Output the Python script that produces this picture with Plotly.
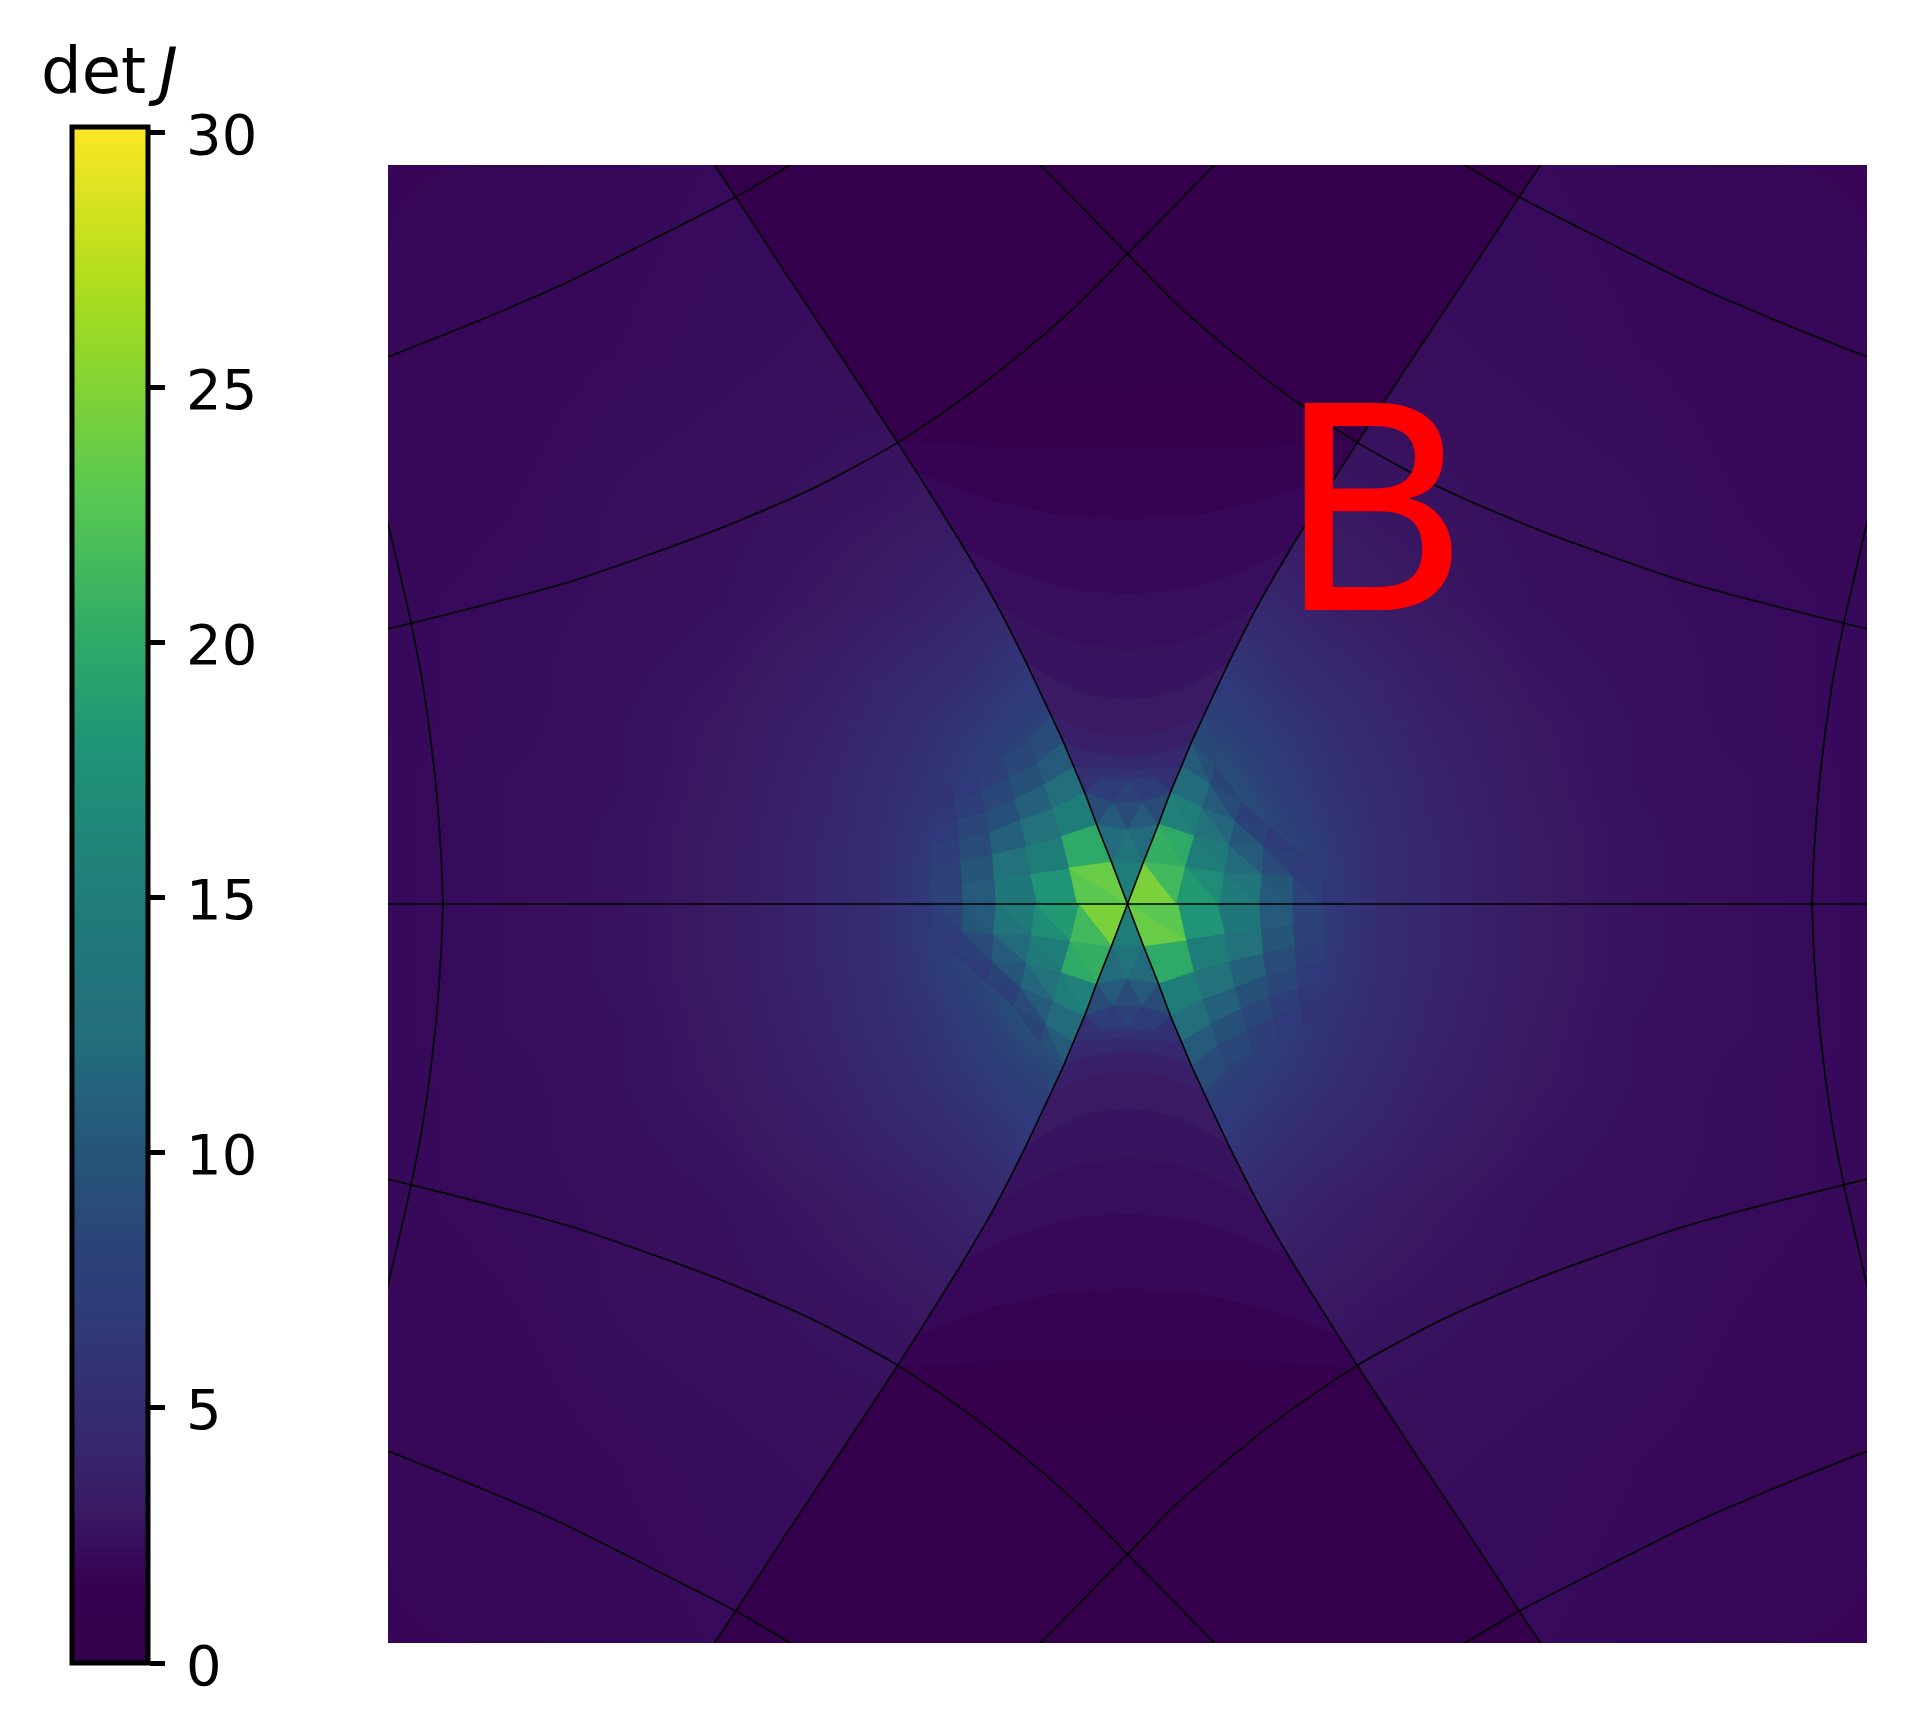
import numpy as np
import plotly.graph_objects as go
from plotly.colors import sample_colorscale

# top of the colorbar sits a little above the 30 tick
z_top = 30.1

# values (value, colour)
bar_values = [0, 1.5, 2, 3, 4, 5, 6.5, 8, 10, 12, 15, 18, 20, 22.75, 25, 27, 28, 30.1]
bar_colors = ['#33004a', '#36004e', '#37085a', '#391a63', '#37246d', '#352c70', '#30387a', '#2c4278',
              '#255579', '#236b7c', '#1f7d79', '#1f9477', '#2ea968', '#55c753', '#82d334', '#aedd1d',
              '#c7e01e', '#fde725']
colorscale = [[v / z_top, c] for v, c in zip(bar_values, bar_colors)]
tick_values = [0, 5, 10, 15, 20, 25, 30]

# background field, one quadrant (|x| columns, |y| rows)
field_x = [0, 100, 150, 200, 250, 300, 400, 500, 600, 760]
field_y = [0, 60, 120, 180, 240, 300, 400, 550, 760]
field_z = [
    [12, 12, 9.5, 6.8, 5.2, 4.2, 3.1, 2.6, 2.3, 2.0],
    [12, 11, 8.5, 6.5, 5.1, 4.2, 3.1, 2.6, 2.3, 2.0],
    [11, 9.5, 7.2, 5.8, 4.9, 4, 3, 2.5, 2.3, 2.0],
    [9, 7.5, 6.3, 5.3, 4.4, 3.7, 2.9, 2.5, 2.2, 2.0],
    [6.5, 6.3, 5.2, 4.4, 3.9, 3.3, 2.7, 2.4, 2.2, 2.0],
    [5, 4.8, 4.2, 3.6, 3.2, 2.9, 2.5, 2.3, 2.2, 2.0],
    [3, 3, 3, 2.9, 2.7, 2.6, 2.4, 2.3, 2.1, 1.9],
    [2.4, 2.4, 2.4, 2.3, 2.3, 2.3, 2.2, 2.1, 2.0, 1.9],
    [2.1, 2.1, 2.1, 2.1, 2.1, 2.1, 2.1, 2.0, 1.9, 1.9],
]

# upper right sector of the mesh
ur_nodes = {
    'O': (0, 0),
    'R1': (16, -42), 'R2': (31, -80), 'R3': (43, -112), 'R4': (54, -138), 'R5': (64, -162), 'R6': (77, -190),
    'H1': (49, 0), 'H2': (93, 0), 'H3': (132, 0), 'H4': (166, 0), 'H5': (195, 0), 'H6': (222, 0),
    'P21': (58, -37), 'P31': (67, -68), 'P32': (97, -31),
    'P41': (75, -97), 'P42': (102, -59), 'P43': (135, -30),
    'P51': (83, -120), 'P52': (108, -83), 'P53': (136, -58), 'P54': (166, -28),
    'P61': (88, -140), 'P62': (114, -102), 'P63': (142, -78), 'P64': (170, -52), 'P65': (196, -27),
}
ur_triangles = [
    ('O', 'R1', 'H1'),
    ('R1', 'R2', 'P21'), ('R1', 'P21', 'H1'), ('H1', 'P21', 'H2'),
    ('R2', 'R3', 'P31'), ('R2', 'P31', 'P21'), ('P21', 'P31', 'P32'), ('P21', 'P32', 'H2'), ('P32', 'H2', 'H3'),
    ('R3', 'R4', 'P41'), ('R3', 'P41', 'P31'), ('P31', 'P41', 'P42'), ('P31', 'P42', 'P32'),
    ('P32', 'P42', 'P43'), ('P32', 'P43', 'H3'), ('H3', 'P43', 'H4'),
    ('R4', 'R5', 'P51'), ('R4', 'P51', 'P41'), ('P41', 'P51', 'P52'), ('P41', 'P52', 'P42'),
    ('P42', 'P52', 'P53'), ('P42', 'P53', 'P43'), ('P43', 'P53', 'P54'), ('P43', 'P54', 'H4'), ('H4', 'P54', 'H5'),
    ('R5', 'R6', 'P61'), ('R5', 'P61', 'P51'), ('P51', 'P61', 'P62'), ('P51', 'P62', 'P52'),
    ('P52', 'P62', 'P63'), ('P52', 'P63', 'P53'), ('P53', 'P63', 'P64'), ('P53', 'P64', 'P54'),
    ('P54', 'P64', 'P65'), ('P54', 'P65', 'H5'), ('H5', 'P65', 'H6'),
]
ur_values = [
    24.6,
    20.5, 21.5, 18.5,
    15.5, 20, 15, 17, 14.5,
    12, 15, 13, 14.5, 12, 13.5, 10.5,
    10.5, 12, 10.5, 11.5, 10, 10.5, 8.8, 10, 8,
    8.5, 9.5, 8.2, 9, 7.6, 8.2, 7, 7.6, 6.6, 7.2, 6.4,
]

# upper left sector, rows run out from the horizontal line
ul_grid = [
    [(0, 0), (-51, 0), (-91, 0), (-132, 0), (-166, 0), (-195, 0)],
    [(-16, -42), (-59, -36), (-98, -30), (-134, -26), (-166, -22), (-197, -18)],
    [(-31, -80), (-67, -68), (-102, -58), (-136, -50), (-168, -43), (-197, -38)],
    [(-43, -112), (-76, -96), (-108, -84), (-139, -72), (-169, -65), (-197, -60)],
    [(-54, -138), (-84, -120), (-114, -105), (-142, -93), (-171, -85), (-197, -78)],
    [(-64, -162), (-91, -142), (-120, -127), (-147, -113), (-174, -103), (-197, -95)],
    [(-77, -190), (-99, -162), (-126, -147), (-152, -133), (-177, -123), (-199, -113)],
]
ul_values = [
    [23, 18, 14, 10.5, 8],
    [20, 15, 13, 10, 7.8],
    [15, 13, 11, 9, 7.4],
    [12.5, 11, 9.5, 8.4, 6.8],
    [10.5, 9.5, 8.4, 7.4, 6.4],
    [9, 8.4, 7.4, 6.8, 6],
]

# top wedge, small triangles next to the centre
top_nodes = {
    'O': (0, 0), 'L1': (-16, -42), 'R1': (16, -42), 'N1': (0, -75),
    'L2': (-31, -80), 'R2': (31, -80), 'M2': (-14, -103), 'S2': (14, -103), 'N3': (0, -125),
    'L3': (-43, -112), 'R3': (43, -112), 'M4': (-26, -128), 'S4': (26, -128),
}
top_triangles = [
    ('O', 'L1', 'R1'), ('L1', 'N1', 'R1'), ('L1', 'L2', 'N1'), ('R1', 'R2', 'N1'),
    ('L2', 'M2', 'N1'), ('R2', 'S2', 'N1'), ('N1', 'M2', 'S2'), ('M2', 'N3', 'S2'),
    ('L2', 'L3', 'M2'), ('R2', 'R3', 'S2'), ('L3', 'M4', 'M2'), ('R3', 'S4', 'S2'),
    ('M2', 'M4', 'N3'), ('S2', 'S4', 'N3'),
]
top_values = [15, 13.5, 12, 12, 10.5, 10.5, 9, 8, 9, 9, 7.2, 7.2, 6.8, 6.8]

# top wedge, bands further out: half arcs from the ray to the middle
band_arcs = [
    [(-43, -112), (-26, -128), (0, -125)],
    [(-54, -138), (-25, -136), (0, -135)],
    [(-64, -162), (-42, -154), (-21, -150), (0, -148)],
    [(-77, -190), (-51, -178), (-26, -170), (0, -168)],
    [(-102, -243), (-68, -222), (-34, -209), (0, -205)],
    [(-131, -300), (-87, -275), (-44, -260), (0, -255)],
    [(-164, -357), (-109, -331), (-55, -315), (0, -310)],
    [(-211, -432), (-141, -406), (-70, -390), (0, -385)],
    [(-230, -462), (-153, -460), (-77, -456), (0, -455)],
    [(-130, -532), (-87, -524), (-43, -518), (0, -516)],
]
band_values = [5.6, 4.5, 3.6, 3.0, 2.6, 2.3, 2.0, 1.7, 1.3]

# black mesh lines, one quadrant
ray_line = [(0, 0), (-16, -42), (-31, -80), (-43, -112), (-54, -138), (-64, -162), (-77, -190), (-102, -243),
            (-131, -300), (-164, -357), (-230, -462), (-293, -558), (-341, -630), (-392, -708), (-414, -741)]
arc_d = [(-742, -275), (-638, -301), (-557, -323), (-413, -374), (-317, -415), (-230, -462),
         (-155, -513), (-102, -555), (-49, -601), (0, -651), (44, -696), (88, -741)]
arc_e = [(-742, -547), (-652, -583), (-566, -620), (-480, -663), (-392, -708), (-336, -741)]
arc_c = [(-742, -390), (-717, -282), (-705, -219), (-693, -128), (-687, -51), (-685, 0)]

# wedge above arc d
dark_value = 0.6
gap_value = 0.9

fig = go.Figure()


def poly(points, value, sign=1):
    col = sample_colorscale(colorscale, [value / z_top])[0]
    xs = [sign * p[0] for p in points] + [sign * points[0][0]]
    ys = [sign * p[1] for p in points] + [sign * points[0][1]]
    fig.add_trace(go.Scatter(x=xs, y=ys, mode='lines', fill='toself', fillcolor=col,
                             line=dict(color=col, width=0.7), hoverinfo='skip', showlegend=False))


# full field from the quadrant
quad = np.array(field_z)
full_z = np.vstack([np.hstack([quad[::-1, ::-1], quad[::-1, 1:]]), np.hstack([quad[1:, ::-1], quad[1:, 1:]])])
full_x = [-v for v in field_x[::-1]] + field_x[1:]
full_y = [-v for v in field_y[::-1]] + field_y[1:]

fig.add_trace(go.Heatmap(
    x=full_x, y=full_y, z=full_z, zmin=0, zmax=z_top, zsmooth='best', colorscale=colorscale, hoverinfo='skip',
    colorbar=dict(
        x=64 / 1890, xanchor='left', xpad=0, ypad=0, xref='paper', yref='paper',
        y=65 / 1720, yanchor='bottom', lenmode='fraction', len=1536 / 1720,
        thickness=76, outlinecolor='black', outlinewidth=5,
        tickmode='array', tickvals=tick_values, ticks='outside', ticklen=15, tickwidth=4.5, tickcolor='black',
        showticklabels=False,
    ),
))

for s in (1, -1):
    for tri, val in zip(ur_triangles, ur_values):
        poly([ur_nodes[n] for n in tri], val, s)
    for r in range(len(ul_values)):
        for c in range(len(ul_values[r])):
            g = ul_grid
            poly([g[r][c], g[r][c + 1], g[r + 1][c + 1], g[r + 1][c]], ul_values[r][c], s)
    # the lighter half of the brightest cell
    poly([ul_grid[0][0], ul_grid[1][0], ul_grid[1][1]], 23.7, s)
    for tri, val in zip(top_triangles, top_values):
        poly([top_nodes[n] for n in tri], val, s)
    for i, val in enumerate(band_values):
        low = band_arcs[i]
        high = band_arcs[i + 1]
        pts = low + [(-p[0], p[1]) for p in low[-2::-1]] + [(-p[0], p[1]) for p in high[:-1]] + high[::-1]
        poly(pts, val, s)
    # gap between the last band and arc d
    last = band_arcs[-1]
    inner = [p for p in arc_d if -230 <= p[0] <= 0]
    pts = inner + [(-p[0], p[1]) for p in inner[-2::-1]] + [(-p[0], p[1]) for p in last[:-1]] + last[::-1]
    poly(pts, gap_value, s)
    # dark part above arc d
    upper_ray = [p for p in ray_line if p[1] <= -462]
    pts = upper_ray + [(-p[0], p[1]) for p in upper_ray[::-1]] + [(-p[0], p[1]) for p in inner[:-1]] + inner[::-1]
    poly(pts, dark_value, s)

line_style = dict(color='black', width=1.6, shape='spline', smoothing=0.7)
for curve in (ray_line, arc_d, arc_e, arc_c):
    for sx in (1, -1):
        for sy in (1, -1):
            fig.add_trace(go.Scatter(x=[sx * p[0] for p in curve], y=[sy * p[1] for p in curve], mode='lines',
                                     line=line_style, hoverinfo='skip', showlegend=False))
fig.add_trace(go.Scatter(x=[-740, 740], y=[0, 0], mode='lines', line=dict(color='black', width=1.6),
                         hoverinfo='skip', showlegend=False))

# colorbar tick labels sit further from the ticks and a bit below them
for v in tick_values:
    fig.add_annotation(x=176 / 1890, y=(65 + v / z_top * 1536) / 1720, xref='paper', yref='paper', text=str(v),
                       showarrow=False, xanchor='left', yanchor='middle', yshift=-2,
                       font=dict(family='DejaVu Sans', size=56, color='black'))

fig.add_annotation(x=247, y=-393.5, xref='x', yref='y', text='B', showarrow=False,
                   font=dict(family='DejaVu Sans', size=284, color='#ff0000'))
fig.add_annotation(x=31 / 1890, y=1 - 63 / 1720, xref='paper', yref='paper', text='det<i>\u2009J</i>', showarrow=False,
                   xanchor='left', yanchor='middle', font=dict(family='DejaVu Sans', size=64, color='black'))

fig.update_layout(
    width=1890, height=1720, margin=dict(l=0, r=0, t=0, b=0),
    paper_bgcolor='white', plot_bgcolor='white', showlegend=False,
    xaxis=dict(domain=[380 / 1890, 1859 / 1890], range=[-740, 740], visible=False),
    yaxis=dict(domain=[85 / 1720, 1563 / 1720], range=[740, -740], visible=False),
)

fig.write_html("out.html")
